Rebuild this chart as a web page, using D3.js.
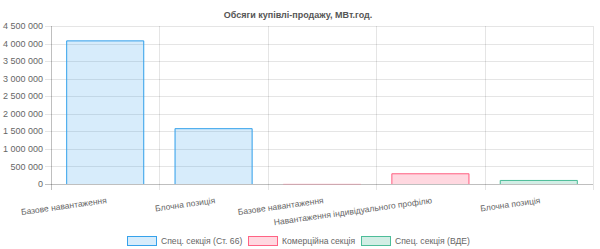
<!DOCTYPE html>
<html>
<head>
<meta charset="utf-8">
<script src="https://cdn.jsdelivr.net/npm/d3@7"></script>
<style>
  body { margin: 0; background: #fff; }
  text { font-family: "Liberation Sans", Arial, Helvetica, sans-serif; }
</style>
</head>
<body>
<svg id="chart" width="600" height="249"></svg>
<script>
// categories on the x axis (some names repeat, so index is the key)
const categories = [
  "Базове навантаження",
  "Блочна позиція",
  "Базове навантаження",
  "Навантаження індивідуального профілю",
  "Блочна позиція"
];

// one value per category, null where the series has no bar
const spec66 = [4090000, 1590000, null, null, null];
const commercial = [null, null, 5000, 305000, null];
const vde = [null, null, null, null, 115000];

const seriesNames = ["Спец. секція (Ст. 66)", "Комерційна секція", "Спец. секція (ВДЕ)"];
const yTicks = [0, 500000, 1000000, 1500000, 2000000, 2500000, 3000000, 3500000, 4000000, 4500000];

const title = "Обсяги купівлі-продажу, МВт.год.";

const colors = [
  { fill: "rgba(54,162,235,0.2)", stroke: "rgb(54,162,235)" },
  { fill: "rgba(255,99,132,0.25)", stroke: "rgb(255,99,132)" },
  { fill: "rgba(77,189,153,0.25)", stroke: "rgb(77,189,153)" }
];

const svg = d3.select("#chart");
const mLeft = 51, mRight = 593, mTop = 26, mBottom = 184;

const x = d3.scaleBand().domain(d3.range(categories.length)).range([mLeft, mRight]);
const y = d3.scaleLinear().domain([0, 4500000]).range([mBottom, mTop]);

const fmt = v => d3.format(",")(v).replace(/,/g, " ");

// grid
const grid = svg.append("g");
grid.selectAll("line.h").data(yTicks).join("line")
  .attr("x1", mLeft - 6).attr("x2", mRight)
  .attr("y1", d => Math.round(y(d)) + 0.5).attr("y2", d => Math.round(y(d)) + 0.5)
  .attr("stroke", d => d === 0 ? "rgba(0,0,0,0.25)" : "rgba(0,0,0,0.1)");
const vLines = d3.range(categories.length + 1).map(i => i === categories.length ? mRight : x(i));
grid.selectAll("line.v").data(vLines).join("line")
  .attr("x1", d => Math.round(d) + 0.5).attr("x2", d => Math.round(d) + 0.5)
  .attr("y1", mTop).attr("y2", mBottom + 6)
  .attr("stroke", (d, i) => i === 0 ? "rgba(0,0,0,0.25)" : "rgba(0,0,0,0.1)");

// y labels
svg.append("g").selectAll("text").data(yTicks).join("text")
  .attr("x", 43).attr("y", d => y(d)).attr("dy", "0.35em")
  .attr("text-anchor", "end").attr("font-size", 9).attr("fill", "#666")
  .text(fmt);

// bars
const series = [spec66, commercial, vde];
const bw = x.bandwidth() * 0.72;
series.forEach((vals, s) => {
  const data = vals.map((v, i) => ({ i, v })).filter(d => d.v != null);
  const g = svg.append("g");
  g.selectAll("rect").data(data).join("rect")
    .attr("x", d => x(d.i) + (x.bandwidth() - bw) / 2)
    .attr("y", d => y(d.v))
    .attr("width", bw)
    .attr("height", d => mBottom - y(d.v))
    .attr("fill", colors[s].fill);
  // border on top and sides, none at the bottom
  g.selectAll("path").data(data).join("path")
    .attr("d", d => {
      const x0 = x(d.i) + (x.bandwidth() - bw) / 2 + 0.5, x1 = x0 + bw - 1, y0 = y(d.v) + 0.5;
      return `M${x0},${mBottom}V${y0}H${x1}V${mBottom}`;
    })
    .attr("fill", "none").attr("stroke", colors[s].stroke).attr("stroke-width", 1)
    .attr("stroke-opacity", d => mBottom - y(d.v) < 2 ? 0.3 : 1);
});

// x labels
svg.append("g").selectAll("text").data(categories).join("text")
  .attr("transform", (d, i) => `translate(${x(i) + x.bandwidth() / 2 + 1},${197}) rotate(-8)`)
  .attr("text-anchor", "end").attr("dy", "0.72em")
  .attr("font-size", 8.5).attr("fill", "#666")
  .text(d => d);

// title
svg.append("text").attr("x", 298).attr("y", 18)
  .attr("text-anchor", "middle").attr("font-size", 9).attr("font-weight", "bold")
  .attr("fill", "#555").text(title);

// legend
const legendX = [127, 248, 361];
const lg = svg.append("g").selectAll("g").data(seriesNames).join("g")
  .attr("transform", (d, i) => `translate(${legendX[i]},236)`);
lg.append("rect").attr("x", 0.5).attr("y", 0.5).attr("width", 29).attr("height", 9)
  .attr("fill", (d, i) => colors[i].fill).attr("stroke", (d, i) => colors[i].stroke);
lg.append("text").attr("x", 34).attr("y", 5).attr("dy", "0.35em")
  .attr("font-size", 8.6).attr("fill", "#666").text(d => d);
</script>
</body>
</html>
